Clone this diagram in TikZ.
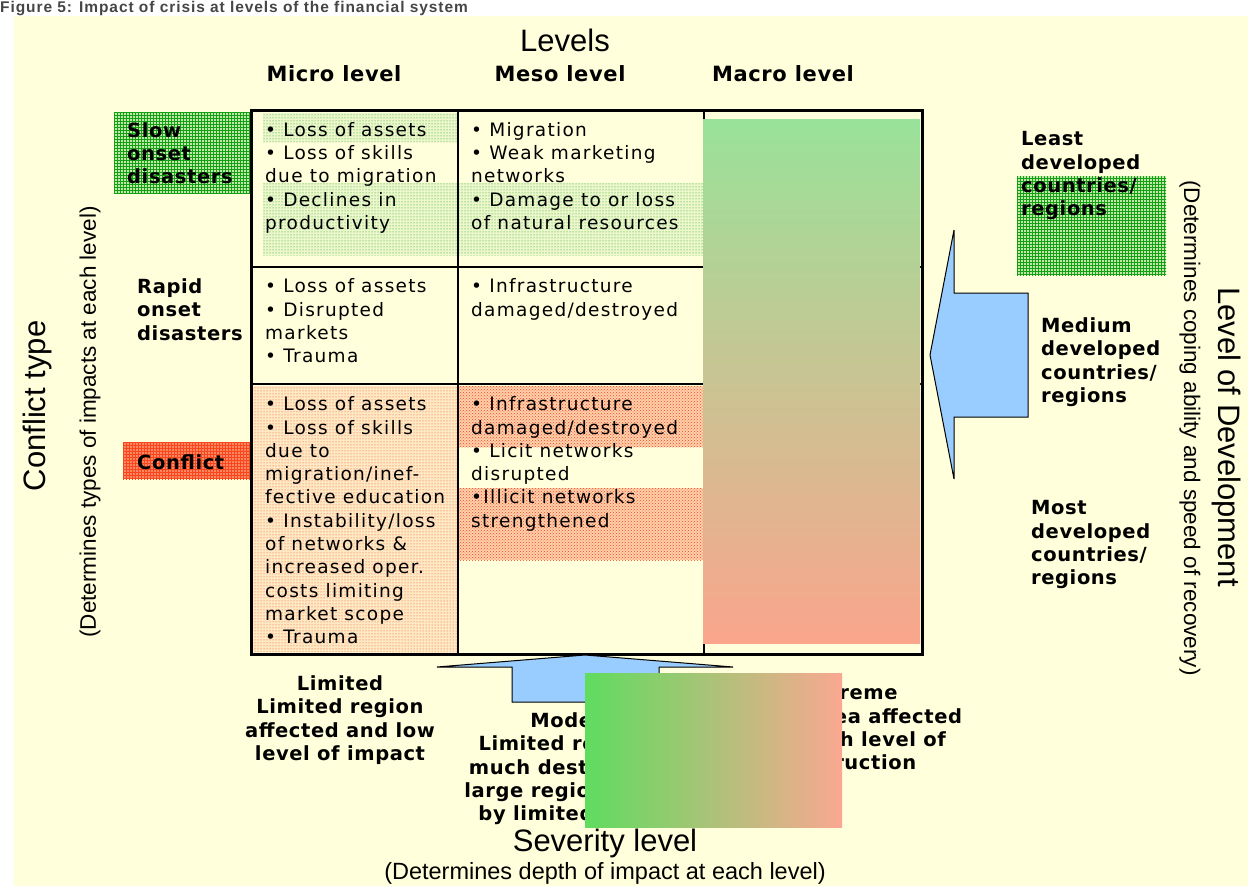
\documentclass[tikz,border=0pt]{standalone}
\usepackage{fontspec}
\setmainfont{DejaVu Sans}
\newfontfamily\arialfont{Liberation Sans}
\newfontfamily\titlefont[LetterSpace=6]{Liberation Sans}
\newfontfamily\cellfont[LetterSpace=7]{DejaVu Sans}
\newfontfamily\labfont[LetterSpace=3]{DejaVu Sans}
\usetikzlibrary{patterns}
\definecolor{bgyellow}{RGB}{255,255,220}
\definecolor{arrowblue}{RGB}{153,204,255}
\definecolor{dotgreen}{RGB}{20,160,20}
\definecolor{dotred}{RGB}{250,70,30}
\definecolor{macrotop}{RGB}{153,226,153}
\definecolor{macromid}{RGB}{210,195,145}
\definecolor{macrobot}{RGB}{250,165,140}
\definecolor{sevleft}{RGB}{95,220,95}
\definecolor{sevmid}{RGB}{205,192,130}
\definecolor{sevright}{RGB}{250,168,145}
\definecolor{titlegray}{RGB}{70,70,70}

\tikzset{
  celltext/.style={anchor=north west, inner sep=0pt, align=left, font=\cellfont\fontsize{18.5}{23.3}\selectfont},
  rowlabel/.style={anchor=north west, inner sep=0pt, align=left, font=\labfont\bfseries\fontsize{19.5}{23.3}\selectfont},
  sevlabel/.style={anchor=north, inner sep=0pt, align=center, font=\labfont\bfseries\fontsize{19.5}{23.3}\selectfont},
  colhead/.style={inner sep=0pt, font=\labfont\bfseries\fontsize{21}{25}\selectfont},
  axistitle/.style={inner sep=0pt, font=\arialfont\fontsize{31}{36}\selectfont},
  axisnote/.style={inner sep=0pt, font=\arialfont\fontsize{22.5}{27}\selectfont},
  greenbox/.style={pattern=grid, pattern color=dotgreen},
  greendots/.style={pattern=dots, pattern color=dotgreen},
  redbox/.style={pattern=grid, pattern color=dotred},
  reddense/.style={pattern=crosshatch dots, pattern color=dotred},
  reddots/.style={pattern=dots, pattern color=dotred},
  blockarrow/.style={fill=arrowblue, draw=black, line width=1pt},
}

\begin{document}
\begin{tikzpicture}[x=1pt, y=-1pt]
  \useasboundingbox (0,0) rectangle (1248,886);
  \clip (0,0) rectangle (1248,886);

  % background
  \fill[bgyellow] (14,16) rectangle (1248,886);
  \node[anchor=base west, inner sep=0pt, text=titlegray,
        font=\titlefont\bfseries\fontsize{15.5}{18}\selectfont] (figtitle) at (0,12.5)
        {Figure 5: Impact of crisis at levels of the financial system};

  % shaded label boxes
  \fill[dotgreen!25!bgyellow] (114,112) rectangle (251,193);
  \fill[greenbox] (114,112) rectangle (251,193);
  \fill[dotred!65!bgyellow] (123,442) rectangle (251,479);
  \fill[redbox] (123,442) rectangle (251,479);
  \fill[dotgreen!25!bgyellow] (1017,176) rectangle (1166,275);
  \fill[greenbox] (1017,176) rectangle (1166,275);

  % shaded cell areas
  \fill[dotgreen!8!bgyellow] (263,113) rectangle (458,142);
  \fill[greendots] (263,113) rectangle (458,142);
  \fill[dotgreen!8!bgyellow] (263,183) rectangle (458,255);
  \fill[greendots] (263,183) rectangle (458,255);
  \fill[dotgreen!8!bgyellow] (459,183) rectangle (703,255);
  \fill[greendots] (459,183) rectangle (703,255);
  \fill[dotred!12!bgyellow] (253,386) rectangle (458,652);
  \fill[reddots] (253,386) rectangle (458,652);
  \fill[dotred!25!bgyellow] (459,386) rectangle (703,447);
  \fill[reddense] (459,386) rectangle (703,447);
  \fill[dotred!25!bgyellow] (459,488) rectangle (703,560);
  \fill[reddense] (459,488) rectangle (703,560);

  % grid
  \draw[line width=2pt] (458,110) -- (458,654);
  \draw[line width=2pt] (704,110) -- (704,654);
  \draw[line width=2pt] (251,267) -- (922,267);
  \draw[line width=2pt] (251,384) -- (922,384);
  \shade[top color=macrotop, middle color=macromid, bottom color=macrobot]
        (703,119) rectangle (920,643);
  \draw[line width=3pt] (251,110) rectangle (922,654);

  % block arrows
  \filldraw[blockarrow] (930,355) -- (954,230) -- (954,293) -- (1028,293)
        -- (1028,417) -- (954,417) -- (954,479) -- cycle;
  \filldraw[blockarrow] (585,655) -- (733,667) -- (659,667) -- (659,702)
        -- (512,702) -- (512,667) -- (437,667) -- cycle;

  % axis titles
  \node[axistitle] (levels) at (565,40) {Levels};
  \node[colhead] (micro) at (334,74) {Micro level};
  \node[colhead] (meso) at (560,74) {Meso level};
  \node[colhead] (macro) at (783,74) {Macro level};
  \node[axistitle, rotate=90] (conftitle) at (37,406) {Conflict type};
  \node[axisnote, rotate=90] (confnote) at (90,422) {(Determines types of impacts at each level)};
  \node[axistitle, rotate=-90] (devtitle) at (1227,437) {Level of Development};
  \node[axisnote, rotate=-90] (devnote) at (1190,428) {(Determines coping ability and speed of recovery)};
  \node[axistitle] (severity) at (605,843) {Severity level};
  \node[axisnote, font=\arialfont\fontsize{23.5}{27}\selectfont] (sevnote) at (605,873)
    {(Determines depth of impact at each level)};

  % row labels
  \node[rowlabel] (slow) at (127,122) {Slow\\onset\\disasters};
  \node[rowlabel] (rapid) at (137,278.5) {Rapid\\onset\\disasters};
  \node[rowlabel] (conflict) at (137,454.5) {Conflict};

  % development labels
  \node[rowlabel] (least) at (1021,131.5) {Least\\developed\\countries/\\regions};
  \node[rowlabel] (medium) at (1041,317.5) {Medium\\developed\\countries/\\regions};
  \node[rowlabel] (most) at (1031,500.5) {Most\\developed\\countries/\\regions};

  % cells
  \node[celltext] (microslow) at (265,122)
    {• Loss of assets\\• Loss of skills\\due to migration\\• Declines in\\productivity};
  \node[celltext] (mesoslow) at (471,122)
    {• Migration\\• Weak marketing\\networks\\• Damage to or loss\\of natural resources};
  \node[celltext] (microrapid) at (265,278.5)
    {• Loss of assets\\• Disrupted\\markets\\• Trauma};
  \node[celltext] (mesorapid) at (471,278.5)
    {• Infrastructure\\damaged/destroyed};
  \node[celltext] (microconf) at (265,396.5)
    {• Loss of assets\\• Loss of skills\\due to\\migration/inef-\\fective education\\%
     • Instability/loss\\of networks \&\\increased oper.\\costs limiting\\market scope\\• Trauma};
  \node[celltext] (mesoconf) at (471,396.5)
    {• Infrastructure\\damaged/destroyed\\• Licit networks\\disrupted\\•Illicit networks\\strengthened};

  % severity labels
  \node[sevlabel] (limited) at (340,675.5)
    {Limited\\Limited region\\affected and low\\level of impact};
  \node[sevlabel] (moderate) at (585,712.5)
    {Moderate\\Limited region but\\much destruction or\\large region affected\\by limited damage};
  \node[sevlabel] (extreme) at (850,685.5)
    {Extreme\\Large area affected\\and high level of\\destruction};

  % gradient patch over the labels
  \shade[left color=sevleft, middle color=sevmid, right color=sevright]
        (585,673) rectangle (842,827);
\end{tikzpicture}
\end{document}
